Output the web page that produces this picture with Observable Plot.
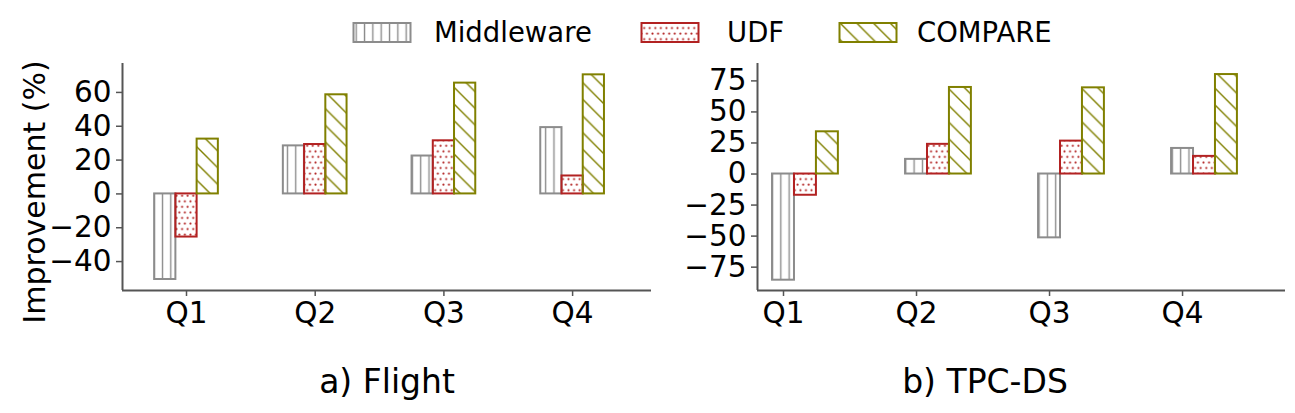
<!DOCTYPE html>
<html><head><meta charset="utf-8">
<script src="https://cdn.jsdelivr.net/npm/d3@7"></script>
<script src="https://cdn.jsdelivr.net/npm/@observablehq/plot@0.6"></script>
<style>
body{margin:0;background:#fff;font-family:"DejaVu Sans",sans-serif;}
#fig{position:relative;width:1295px;height:413px;overflow:hidden;background:#fff;}
.panel{position:absolute;top:0;}
.txt{position:absolute;white-space:nowrap;line-height:1;color:#000;font-family:"DejaVu Sans",sans-serif;}
.sw{position:absolute;}
</style></head><body>
<svg width="0" height="0" style="position:absolute">
  <defs>
    <pattern id="pMid" patternUnits="userSpaceOnUse" width="8.33" height="10">
      <line x1="4.2" y1="-1" x2="4.2" y2="11" stroke="#8c8c8c" stroke-width="1.4"/>
    </pattern>
    <pattern id="pUDF" patternUnits="userSpaceOnUse" width="5.56" height="11.1">
      <circle cx="1.4" cy="1.6" r="1.05" fill="#b22222"/>
      <circle cx="4.18" cy="7.15" r="1.05" fill="#b22222"/>
    </pattern>
    <pattern id="pCmp" patternUnits="userSpaceOnUse" width="16.67" height="16.67">
      <path d="M-2,-2L18.67,18.67M-4,12.67L4,20.67M12.67,-4L20.67,4" stroke="#808000" stroke-width="1.4" fill="none"/>
    </pattern>
  </defs>
</svg>
<div id="fig"></div>
<script>
const categories = ["Q1", "Q2", "Q3", "Q4"];
const seriesNames = ["Middleware", "UDF", "COMPARE"];
const seriesColors = ["#8c8c8c", "#b22222", "#808000"];
const seriesPatterns = ["url(#pMid)", "url(#pUDF)", "url(#pCmp)"];

// a) Flight
const flightMiddleware = [-50.6, 28.4, 22.4, 39.2];
const flightUDF = [-25.5, 29.2, 31.4, 10.6];
const flightCOMPARE = [32.4, 58.6, 65.5, 70.4];
const flightTicks = [-40, -20, 0, 20, 40, 60];

// b) TPC-DS
const tpcdsMiddleware = [-85.5, 11.8, -51.4, 20.6];
const tpcdsUDF = [-17.1, 23.9, 26.5, 14.2];
const tpcdsCOMPARE = [34.0, 69.7, 69.4, 80.1];
const tpcdsTicks = [-75, -50, -25, 0, 25, 50, 75];

const captions = ["a) Flight", "b) TPC-DS"];
const yLabel = "Improvement (%)";

const barW = 0.165;
const FS = 29.5;
const LFS = 27.5;

function buildRows(series, offsets) {
  const rows = [];
  series.forEach((vals, s) => {
    vals.forEach((v, i) => {
      const c = i + offsets[s] * barW;
      rows.push({cat: categories[i], series: seriesNames[s], s, value: v, x1: c - barW / 2, x2: c + barW / 2});
    });
  });
  return rows;
}

const fmt = d => d < 0 ? "\u2212" + Math.abs(d) : String(d);

function panel({rows, xDomain, yDomain, yTicks, width, marginLeft, marginRight}) {
  const axisColor = "#555";
  return Plot.plot({
    width, height: 340,
    marginTop: 63, marginBottom: 50, marginLeft, marginRight,
    style: {fontFamily: "DejaVu Sans", fontSize: FS + "px", color: "#000", background: "transparent", overflow: "visible"},
    x: {type: "linear", domain: xDomain},
    y: {domain: yDomain},
    marks: [
      ...seriesNames.map((name, s) => Plot.rectY(rows.filter(d => d.s === s), {
        x1: "x1", x2: "x2", y1: 0, y2: "value",
        fill: seriesPatterns[s], stroke: seriesColors[s], strokeWidth: 2
      })),
      Plot.ruleX([xDomain[0]], {stroke: axisColor, strokeWidth: 2}),
      Plot.ruleY([yDomain[0]], {stroke: axisColor, strokeWidth: 2}),
      Plot.axisX({ticks: [0, 1, 2, 3], tickFormat: i => categories[i], tickSize: 6, tickPadding: 6,
        stroke: axisColor, strokeWidth: 1.5, fill: "#000", label: null, fontSize: FS}),
      Plot.axisY({ticks: yTicks, tickFormat: fmt, tickSize: 6, tickPadding: 5,
        stroke: axisColor, strokeWidth: 1.5, fill: "#000", label: null, fontSize: FS})
    ]
  });
}

const fig = document.getElementById("fig");

const left = panel({
  rows: buildRows([flightMiddleware, flightUDF, flightCOMPARE], [-1, 0, 1]),
  xDomain: [-0.4973, 3.613], yDomain: [-57.1, 77.1], yTicks: flightTicks,
  width: 660, marginLeft: 122, marginRight: 9
});
left.classList.add("panel"); left.style.left = "0px";
fig.appendChild(left);

const right = panel({
  rows: buildRows([tpcdsMiddleware, tpcdsUDF, tpcdsCOMPARE], [0, 1, 2]),
  xDomain: [-0.1955, 3.774], yDomain: [-93.8, 89], yTicks: tpcdsTicks,
  width: 635, marginLeft: 97, marginRight: 10
});
right.classList.add("panel"); right.style.left = "660px";
fig.appendChild(right);

// y label
const yl = document.createElement("div");
yl.className = "txt";
yl.textContent = yLabel;
yl.style.fontSize = "30px";
yl.style.left = "35px"; yl.style.top = "192px";
yl.style.transform = "translate(-50%,-50%) rotate(-90deg)";
fig.appendChild(yl);

// captions
[[387, captions[0]], [985, captions[1]]].forEach(([cx, t]) => {
  const d = document.createElement("div");
  d.className = "txt";
  d.textContent = t;
  d.style.fontSize = "33px";
  d.style.left = cx + "px"; d.style.top = "365px";
  d.style.transform = "translateX(-50%)";
  fig.appendChild(d);
});

// legend
const legendX = [353, 641, 839];
const legendTextX = [434, 727, 917];
seriesNames.forEach((name, s) => {
  const sw = document.createElementNS("http://www.w3.org/2000/svg", "svg");
  sw.setAttribute("width", 60); sw.setAttribute("height", 24);
  sw.setAttribute("class", "sw");
  sw.style.left = (legendX[s] - 1.5) + "px"; sw.style.top = "21px";
  d3.select(sw).append("rect").attr("x", 1.5).attr("y", 2).attr("width", 57).attr("height", 19)
    .attr("fill", seriesPatterns[s]).attr("stroke", seriesColors[s]).attr("stroke-width", 2);
  fig.appendChild(sw);
  const t = document.createElement("div");
  t.className = "txt";
  t.textContent = name;
  t.style.fontSize = LFS + "px";
  t.style.left = legendTextX[s] + "px"; t.style.top = "19px";
  fig.appendChild(t);
});
</script>
</body></html>
